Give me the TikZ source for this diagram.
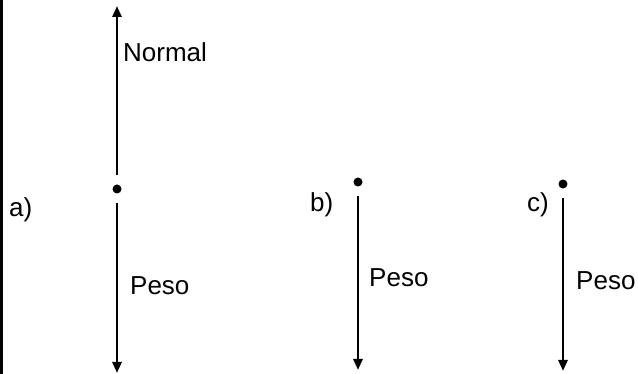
\documentclass[tikz,border=0pt]{standalone}
\usepackage{fontspec}
\setmainfont{Liberation Sans}
\usetikzlibrary{arrows.meta}
\begin{document}
\begin{tikzpicture}[x=1pt,y=-1pt]
		\tikzstyle{every node}+=[inner sep=0pt]
		\tikzstyle{punto}=[circle,fill=black,minimum size=9pt]
		\tikzstyle{fuerza}=[line width=2.8pt,-{Triangle[width=9pt,length=11pt]},shorten <=9.5pt]
		\tikzstyle{etiqueta}=[font=\fontsize{26}{30}\selectfont,anchor=west]
		\useasboundingbox (0,0) rectangle (638,374);
		\draw [line width=3pt] (1.5,0) -- (1.5,374);
		% a)
		\node [punto] (puntoA) at (117,189) {};
		\coordinate (arribaA) at (117,6);
		\coordinate (abajoA) at (117,373);
		\draw [fuerza] (puntoA) -- (arribaA);
		\draw [fuerza] (puntoA) -- (abajoA);
		\node [etiqueta] (normalA) at (123,52) {Normal};
		\node [etiqueta] (pesoA) at (130,286) {Peso};
		\node [etiqueta] (casoA) at (9,210) {a)};
		% b)
		\node [punto] (puntoB) at (358,182) {};
		\coordinate (abajoB) at (358,370);
		\draw [fuerza] (puntoB) -- (abajoB);
		\node [etiqueta] (pesoB) at (369,278) {Peso};
		\node [etiqueta] (casoB) at (310,205) {b)};
		% c)
		\node [punto] (puntoC) at (563,184) {};
		\coordinate (abajoC) at (563,371);
		\draw [fuerza] (puntoC) -- (abajoC);
		\node [etiqueta] (pesoC) at (576,281) {Peso};
		\node [etiqueta] (casoC) at (527,205) {c)};
	\end{tikzpicture}
\end{document}
